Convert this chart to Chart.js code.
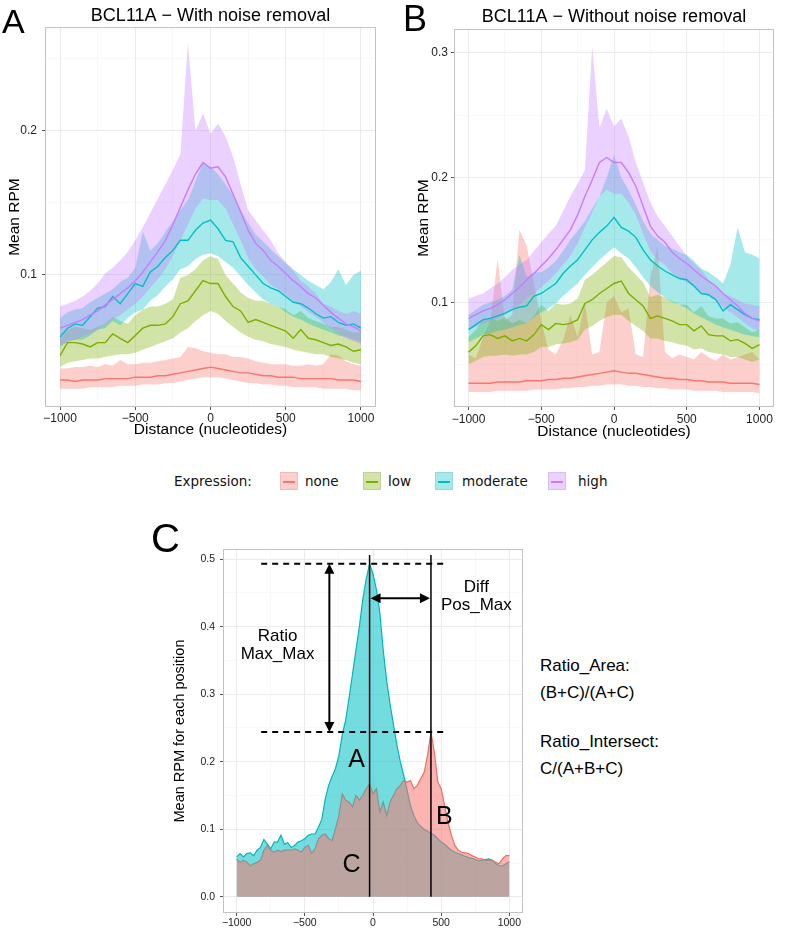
<!DOCTYPE html>
<html lang="en">
<head>
<meta charset="UTF-8">
<title>BCL11A - mean RPM profiles</title>
<script src="https://cdn.jsdelivr.net/npm/chart.js"></script>
<style>
    body { margin: 0; background: #fff; font-family: 'Liberation Sans', Arial, Helvetica, sans-serif; color: #000; }
    #page { position: relative; width: 787px; height: 931px; overflow: hidden; background: #fff; }
    canvas { position: absolute; }
    .tag { position: absolute; line-height: 1; color: #000; white-space: nowrap; }
    .legend span { position: absolute; top: 472px; }
    .legend .txt { font-family: 'DejaVu Sans', Verdana, sans-serif; font-size: 13.5px; line-height: 18px; color: #111; }
    .legend .key { width: 18px; height: 18px; box-sizing: border-box; border: 1px solid rgba(0,0,0,0.08); }
    .legend .key i { position: absolute; left: 2px; right: 2px; top: 8px; height: 2px; }
    .note { position: absolute; left: 540px; font-size: 17px; line-height: 17px; white-space: nowrap; }
</style>
</head>
<body>
<div id="page">
    <canvas id="chartA" width="393" height="450" style="left:0;top:0"></canvas>
    <canvas id="chartB" width="394" height="450" style="left:393px;top:0"></canvas>
    <canvas id="chartC" width="380" height="421" style="left:150px;top:510px"></canvas>

    <div class="tag" style="left:2px;top:3.6px;font-size:34px">A</div>
    <div class="tag" style="left:403px;top:0.5px;font-size:36px">B</div>
    <div class="tag" style="left:151px;top:518px;font-size:40px">C</div>

    <div class="legend">
        <span class="txt" style="left:174px">Expression:</span>
        <span class="key" style="left:280px;background:rgba(248,118,109,0.35)"><i style="background:#F8766D"></i></span>
        <span class="txt" style="left:305px">none</span>
        <span class="key" style="left:363px;background:rgba(124,174,0,0.35)"><i style="background:#7CAE00"></i></span>
        <span class="txt" style="left:388px">low</span>
        <span class="key" style="left:435px;background:rgba(0,191,196,0.35)"><i style="background:#00BFC4"></i></span>
        <span class="txt" style="left:462px">moderate</span>
        <span class="key" style="left:548px;background:rgba(199,124,255,0.35)"><i style="background:#C77CFF"></i></span>
        <span class="txt" style="left:578px">high</span>
    </div>

    <div class="note" style="top:656.5px">Ratio_Area:</div>
    <div class="note" style="top:684px">(B+C)/(A+C)</div>
    <div class="note" style="top:733px">Ratio_Intersect:</div>
    <div class="note" style="top:760px">C/(A+B+C)</div>
</div>
<script>
// distance from site (nucleotides)
const distAB = [-1000,-950,-900,-850,-800,-750,-700,-650,-600,-550,-500,-450,-400,-350,-300,-250,-200,-150,-100,-50,0,
                50,100,150,200,250,300,350,400,450,500,550,600,650,700,750,800,850,900,950,1000];
const distC = [-1000,-975,-950,-925,-900,-875,-850,-825,-800,-775,-750,-725,-700,-675,-650,-625,-600,-575,-550,-525,
               -500,-475,-450,-425,-400,-375,-350,-325,-300,-275,-250,-225,-200,-175,-150,-125,-100,-75,-50,-25,0,
               25,50,75,100,125,150,175,200,225,250,275,300,325,350,375,400,425,450,475,500,525,550,575,600,625,650,
               675,700,725,750,775,800,825,850,875,900,925,950,975,1000];

// tick labels
const xMajor = [-1000, -500, 0, 500, 1000];
const xMinor = [-750, -250, 250, 750];
const yMajorA = [0.1, 0.2];
const yMinorA = [0.05, 0.15, 0.25];
const yMajorB = [0.1, 0.2, 0.3];
const yMinorB = [0.05, 0.15, 0.25];
const yMajorC = [0, 0.1, 0.2, 0.3, 0.4, 0.5];
const yMinorC = [0.05, 0.15, 0.25, 0.35, 0.45];

const groups = ['none', 'low', 'moderate', 'high'];

// A - with noise removal (mean, lower, upper)
const aNone   = [.027,.027,.026,.027,.027,.027,.028,.028,.028,.028,.029,.029,.029,.030,.030,.031,.032,.033,.034,.035,.036,.035,.034,.033,.032,.032,.031,.030,.030,.029,.029,.029,.028,.028,.028,.028,.028,.027,.027,.027,.026];
const aNoneLo = [.021,.021,.021,.021,.022,.022,.022,.022,.023,.023,.023,.024,.024,.024,.025,.025,.026,.027,.028,.029,.029,.029,.028,.027,.026,.025,.025,.024,.024,.023,.023,.022,.022,.022,.022,.021,.021,.021,.021,.020,.020];
const aNoneHi = [.035,.035,.036,.036,.037,.036,.038,.037,.041,.038,.038,.039,.039,.040,.041,.042,.043,.050,.049,.047,.046,.045,.045,.043,.043,.042,.040,.039,.038,.038,.038,.037,.037,.038,.037,.038,.045,.044,.040,.038,.037];
const aLow    = [.044,.053,.053,.052,.050,.053,.053,.059,.056,.053,.058,.063,.065,.065,.066,.071,.080,.082,.089,.096,.094,.094,.085,.078,.075,.067,.069,.067,.065,.063,.061,.056,.062,.056,.055,.053,.051,.052,.050,.047,.048];
const aLowLo  = [.036,.039,.040,.041,.042,.042,.043,.044,.045,.045,.046,.048,.050,.052,.054,.056,.060,.063,.068,.072,.075,.073,.068,.064,.060,.057,.055,.054,.052,.051,.050,.048,.047,.046,.045,.045,.043,.042,.041,.039,.038];
const aLowHi  = [.057,.062,.064,.063,.062,.064,.066,.071,.068,.066,.072,.076,.078,.078,.080,.083,.098,.100,.104,.110,.113,.111,.100,.094,.088,.084,.082,.082,.080,.078,.076,.072,.075,.070,.068,.066,.064,.064,.062,.060,.060];
const aMod    = [.057,.063,.066,.065,.071,.077,.078,.085,.080,.087,.094,.092,.102,.106,.112,.117,.124,.124,.131,.136,.138,.132,.124,.123,.112,.106,.100,.094,.091,.089,.085,.081,.080,.077,.073,.070,.071,.067,.065,.066,.063];
const aModLo  = [.050,.054,.055,.055,.058,.062,.063,.068,.065,.070,.074,.076,.082,.086,.092,.097,.104,.106,.111,.114,.115,.113,.109,.105,.099,.093,.088,.083,.080,.078,.074,.071,.069,.066,.064,.062,.060,.058,.057,.055,.053];
const aModHi  = [.070,.074,.076,.077,.081,.084,.087,.090,.095,.098,.105,.130,.117,.122,.130,.137,.145,.152,.165,.178,.175,.170,.163,.155,.145,.136,.128,.123,.118,.113,.108,.104,.100,.096,.093,.090,.095,.104,.093,.100,.103];
const aHigh   = [.063,.065,.067,.069,.072,.075,.079,.083,.087,.091,.096,.102,.109,.116,.124,.135,.147,.159,.170,.178,.174,.175,.168,.156,.144,.131,.122,.117,.110,.106,.101,.096,.092,.087,.084,.079,.074,.070,.066,.064,.061];
const aHighLo = [.051,.053,.055,.057,.059,.062,.065,.069,.072,.076,.080,.085,.091,.097,.104,.113,.124,.135,.146,.153,.152,.152,.146,.135,.124,.112,.104,.099,.093,.090,.086,.082,.078,.074,.071,.067,.063,.059,.056,.054,.052];
const aHighHi = [.078,.080,.082,.085,.089,.094,.101,.105,.110,.116,.124,.133,.143,.153,.163,.173,.184,.261,.200,.212,.198,.205,.196,.182,.163,.145,.138,.131,.124,.115,.109,.103,.096,.092,.087,.080,.078,.075,.073,.075,.073];

// B - without noise removal
const bNone   = [.035,.035,.035,.035,.036,.036,.036,.036,.037,.037,.037,.038,.038,.039,.039,.040,.041,.042,.043,.044,.045,.044,.043,.043,.042,.041,.040,.039,.039,.038,.038,.037,.037,.036,.036,.036,.035,.035,.035,.035,.034];
const bNoneLo = [.028,.028,.028,.028,.029,.029,.029,.029,.029,.030,.030,.030,.030,.031,.031,.032,.032,.033,.033,.034,.034,.034,.033,.033,.032,.032,.031,.031,.030,.030,.030,.029,.029,.029,.029,.028,.028,.028,.028,.028,.027];
const bNoneHi = [.058,.055,.072,.085,.135,.085,.090,.158,.145,.115,.085,.062,.058,.070,.090,.072,.100,.058,.060,.100,.105,.092,.095,.058,.056,.120,.145,.060,.055,.058,.056,.054,.060,.056,.053,.058,.054,.056,.058,.060,.054];
const bLow    = [.060,.065,.073,.074,.071,.073,.069,.071,.069,.074,.082,.078,.083,.082,.083,.086,.099,.102,.107,.111,.115,.117,.107,.102,.097,.087,.089,.087,.085,.082,.082,.077,.081,.074,.073,.073,.069,.070,.067,.063,.066];
const bLowLo  = [.050,.053,.056,.057,.057,.058,.057,.058,.058,.060,.064,.064,.066,.067,.068,.070,.078,.081,.085,.088,.090,.090,.085,.081,.077,.071,.071,.069,.068,.066,.065,.062,.063,.060,.059,.058,.056,.056,.054,.052,.054];
const bLowHi  = [.072,.078,.086,.088,.085,.088,.083,.086,.083,.089,.098,.093,.099,.098,.099,.103,.118,.122,.127,.132,.137,.136,.128,.122,.116,.104,.106,.104,.101,.098,.098,.092,.097,.089,.087,.087,.083,.084,.080,.076,.078];
const bMod    = [.078,.082,.086,.087,.089,.091,.094,.096,.097,.105,.107,.111,.115,.123,.129,.134,.142,.150,.156,.161,.168,.160,.157,.152,.142,.134,.129,.125,.122,.119,.118,.113,.107,.106,.102,.093,.098,.094,.090,.087,.086];
const bModLo  = [.068,.071,.074,.075,.077,.078,.080,.082,.083,.088,.092,.095,.099,.105,.110,.115,.122,.128,.134,.139,.144,.139,.135,.128,.120,.113,.108,.104,.100,.098,.095,.091,.088,.085,.082,.080,.078,.076,.074,.073,.072];
const bModHi  = [.090,.094,.098,.100,.102,.105,.110,.138,.120,.124,.124,.128,.133,.141,.150,.157,.165,.175,.185,.200,.218,.200,.190,.178,.165,.155,.150,.145,.143,.140,.138,.133,.127,.124,.120,.115,.130,.160,.140,.138,.135];
const bHigh   = [.087,.090,.093,.095,.098,.102,.107,.112,.118,.123,.129,.135,.142,.150,.158,.170,.185,.198,.212,.216,.212,.212,.204,.193,.177,.161,.153,.148,.140,.135,.131,.126,.121,.117,.113,.107,.102,.097,.091,.087,.085];
const bHighLo = [.078,.080,.083,.085,.087,.090,.094,.098,.103,.107,.112,.117,.123,.130,.137,.147,.160,.172,.185,.190,.187,.187,.180,.170,.155,.141,.134,.130,.123,.119,.116,.112,.108,.105,.101,.096,.092,.088,.083,.079,.077];
const bHighHi = [.103,.105,.107,.111,.115,.120,.126,.130,.134,.141,.148,.155,.161,.173,.185,.195,.206,.305,.240,.255,.241,.247,.233,.212,.196,.180,.169,.161,.153,.145,.137,.131,.126,.118,.113,.107,.105,.102,.099,.098,.097];

// C - two example profiles (cyan = A side, red = B side)
const peakA = [.059,.064,.059,.064,.065,.061,.069,.073,.085,.078,.071,.081,.081,.091,.078,.080,.073,.076,.081,.083,
               .086,.091,.093,.093,.103,.115,.145,.165,.178,.190,.209,.240,.262,.295,.330,.365,.400,.440,.470,.493,.478,
               .455,.421,.365,.320,.285,.255,.225,.200,.180,.158,.135,.120,.110,.104,.100,.097,.094,.091,.086,.081,.078,
               .073,.069,.066,.064,.062,.060,.058,.057,.055,.053,.054,.055,.056,.054,.049,.046,.046,.049,.052];
const peakB = [.056,.051,.054,.051,.046,.049,.051,.054,.069,.076,.069,.066,.069,.067,.069,.069,.069,.071,.069,.066,
               .073,.076,.064,.071,.086,.091,.093,.086,.083,.101,.120,.152,.143,.140,.133,.150,.143,.150,.160,.167,.152,
               .160,.125,.140,.120,.140,.150,.160,.165,.172,.170,.172,.160,.165,.175,.184,.209,.244,.214,.170,.160,.135,
               .110,.091,.076,.069,.066,.065,.064,.061,.059,.056,.056,.054,.054,.054,.051,.049,.056,.061,.061];

const groupRgb = ['248,118,109', '124,174,0', '0,191,196', '199,124,255'];

Chart.defaults.font.family = "'Liberation Sans', Arial, Helvetica, sans-serif";
Chart.defaults.color = '#222';

const near = (list, v) => list.some(m => Math.abs(m - v) < 1e-9);
const pts = (xs, ys) => xs.map((x, i) => ({ x: x, y: ys[i] }));
const fmtX = v => (v < 0 ? '\u2212' + (-v) : String(v));
const argMax = arr => arr.indexOf(Math.max(...arr));

// light grey frame round the panel, like ggplot
const panelBorder = {
    id: 'panelBorder',
    afterDraw(chart) {
        const a = chart.chartArea, ctx = chart.ctx;
        ctx.save();
        ctx.strokeStyle = '#c2c2c2';
        ctx.lineWidth = 1;
        ctx.strokeRect(a.left + 0.5, a.top + 0.5, a.right - a.left - 1, a.bottom - a.top - 1);
        ctx.restore();
    }
};

function scaleX(g) {
    return {
        type: 'linear', min: -1100, max: 1100,
        afterBuildTicks: s => { s.ticks = xMajor.concat(xMinor).sort((a, b) => a - b).map(v => ({ value: v })); },
        afterFit: s => { s.height = g.xh; },
        ticks: { autoSkip: false, maxRotation: 0, padding: g.xtp, font: { size: g.tick }, color: '#222',
                 callback: v => near(xMajor, v) ? fmtX(v) : '' },
        grid: {
            color: c => (c.tick && near(xMajor, c.tick.value)) ? '#ebebeb' : '#f5f5f5',
            lineWidth: c => (c.tick && near(xMajor, c.tick.value)) ? 1 : 0.7,
            tickLength: 3,
            tickColor: c => (c.tick && near(xMajor, c.tick.value)) ? '#555' : 'rgba(0,0,0,0)'
        },
        border: { display: false },
        title: { display: !!g.xTitle, text: g.xTitle, color: '#000', font: { size: 15.5 }, padding: { top: 0, bottom: g.xpb } }
    };
}

function scaleY(g, major, minor, min, max) {
    return {
        type: 'linear', min: min, max: max,
        afterBuildTicks: s => { s.ticks = major.concat(minor).sort((a, b) => a - b).map(v => ({ value: v })); },
        afterFit: s => { s.width = g.yw; },
        ticks: { autoSkip: false, padding: g.ytp, font: { size: g.tick }, color: '#222',
                 callback: v => near(major, v) ? v.toFixed(1) : '' },
        grid: {
            color: c => (c.tick && near(major, c.tick.value)) ? '#ebebeb' : '#f5f5f5',
            lineWidth: c => (c.tick && near(major, c.tick.value)) ? 1 : 0.7,
            tickLength: 3,
            tickColor: c => (c.tick && near(major, c.tick.value)) ? '#555' : 'rgba(0,0,0,0)'
        },
        border: { display: false },
        title: { display: true, text: g.yTitle, color: '#000', font: { size: g.yTitleSize }, padding: { top: g.ypt, bottom: 0 } }
    };
}

function ribbonChart(id, title, series, major, minor, yMin, yMax, g) {
    const ds = [];
    series.forEach((s, k) => {
        ds.push({ data: pts(distAB, s.lo), borderWidth: 0, pointRadius: 0, fill: false, order: 20 - k });
        ds.push({ data: pts(distAB, s.hi), borderWidth: 0, pointRadius: 0, fill: '-1',
                  backgroundColor: 'rgba(' + groupRgb[k] + ',0.35)', order: 20 - k });
    });
    series.forEach((s, k) => {
        ds.push({ label: groups[k], data: pts(distAB, s.mean), borderColor: 'rgb(' + groupRgb[k] + ')',
                  borderWidth: 1.4, pointRadius: 0, fill: false, order: 10 - k });
    });
    return new Chart(document.getElementById(id), {
        type: 'line',
        data: { datasets: ds },
        options: {
            responsive: false, animation: false, events: [],
            layout: { padding: { left: 0, right: g.pr, top: 0, bottom: 0 } },
            plugins: {
                legend: { display: false }, tooltip: { enabled: false },
                title: { display: true, text: title, fullSize: false, color: '#000',
                         font: { size: 18, weight: 'normal' }, padding: { top: g.tpt, bottom: g.tpb } }
            },
            scales: { x: scaleX(g), y: scaleY(g, major, minor, yMin, yMax) }
        },
        plugins: [panelBorder]
    });
}

ribbonChart('chartA', 'BCL11A \u2212 With noise removal', [
    { mean: aNone, lo: aNoneLo, hi: aNoneHi },
    { mean: aLow, lo: aLowLo, hi: aLowHi },
    { mean: aMod, lo: aModLo, hi: aModHi },
    { mean: aHigh, lo: aHighLo, hi: aHighHi }
], yMajorA, yMinorA, 0.0083, 0.272,
{ pr: 17, tpt: 5.5, tpb: 0, xh: 43, xtp: 1, xpb: 10.7, xTitle: 'Distance (nucleotides)', tick: 12,
  yw: 45, ytp: 5, ypt: 5.2, yTitle: 'Mean RPM', yTitleSize: 15.5 });

ribbonChart('chartB', 'BCL11A \u2212 Without noise removal', [
    { mean: bNone, lo: bNoneLo, hi: bNoneHi },
    { mean: bLow, lo: bLowLo, hi: bLowHi },
    { mean: bMod, lo: bModLo, hi: bModHi },
    { mean: bHigh, lo: bHighLo, hi: bHighHi }
], yMajorB, yMinorB, 0.016, 0.319,
{ pr: 13, tpt: 6.7, tpb: 0.7, xh: 43, xtp: 2.4, xpb: 8.7, xTitle: 'Distance (nucleotides)', tick: 12,
  yw: 61, ytp: 3, ypt: 21.7, yTitle: 'Mean RPM', yTitleSize: 15.5 });

// arrows, dashed max levels and region letters for panel C
function head(ctx, x, y, ang) {
    ctx.save();
    ctx.translate(x, y);
    ctx.rotate(ang);
    ctx.beginPath();
    ctx.moveTo(0, 0);
    ctx.lineTo(-10, -5);
    ctx.lineTo(-10, 5);
    ctx.closePath();
    ctx.fill();
    ctx.restore();
}

const peakMarks = {
    id: 'peakMarks',
    afterDatasetsDraw(chart) {
        const { ctx, chartArea: area, scales: { x, y } } = chart;
        const iA = argMax(peakA), iB = argMax(peakB);
        const xA = x.getPixelForValue(distC[iA]), xB = x.getPixelForValue(distC[iB]);
        const yA = y.getPixelForValue(peakA[iA]), yB = y.getPixelForValue(peakB[iB]);
        const y0 = y.getPixelForValue(0);
        ctx.save();
        ctx.strokeStyle = '#000';
        ctx.fillStyle = '#000';

        // position of each maximum
        ctx.lineWidth = 1.5;
        [xA, xB].forEach(px => {
            ctx.beginPath(); ctx.moveTo(px, y0); ctx.lineTo(px, area.top + 6); ctx.stroke();
        });

        // height of each maximum
        ctx.lineWidth = 2;
        ctx.setLineDash([6, 5]);
        const dl = x.getPixelForValue(-820), dr = x.getPixelForValue(520);
        [yA, yB].forEach(py => {
            ctx.beginPath(); ctx.moveTo(dl, py); ctx.lineTo(dr, py); ctx.stroke();
        });
        ctx.setLineDash([]);

        // Ratio Max_Max arrow
        const ax = x.getPixelForValue(-320);
        ctx.beginPath(); ctx.moveTo(ax, yA + 8); ctx.lineTo(ax, yB - 8); ctx.stroke();
        head(ctx, ax, yA, -Math.PI / 2);
        head(ctx, ax, yB, Math.PI / 2);

        // Diff Pos_Max arrow
        const ay = y.getPixelForValue(0.442);
        ctx.beginPath(); ctx.moveTo(xA + 9, ay); ctx.lineTo(xB - 9, ay); ctx.stroke();
        head(ctx, xA + 1, ay, Math.PI);
        head(ctx, xB - 1, ay, 0);

        ctx.textAlign = 'center';
        ctx.textBaseline = 'middle';
        ctx.font = "17px 'Liberation Sans', Arial, sans-serif";
        ctx.fillText('Ratio', x.getPixelForValue(-700), y.getPixelForValue(0.385));
        ctx.fillText('Max_Max', x.getPixelForValue(-700), y.getPixelForValue(0.359));
        ctx.fillText('Diff', x.getPixelForValue(758), y.getPixelForValue(0.459));
        ctx.fillText('Pos_Max', x.getPixelForValue(758), y.getPixelForValue(0.432));

        ctx.font = "25px 'Liberation Sans', Arial, sans-serif";
        ctx.fillText('A', x.getPixelForValue(-121), y.getPixelForValue(0.203));
        ctx.fillText('B', x.getPixelForValue(523), y.getPixelForValue(0.118));
        ctx.fillText('C', x.getPixelForValue(-157), y.getPixelForValue(0.047));
        ctx.restore();
    }
};

const gC = { xh: 18, xtp: 1, xpb: 0, xTitle: null, tick: 10.5,
             yw: 73, ytp: 5, ypt: 21.3, yTitle: 'Mean RPM for each position', yTitleSize: 14.5 };

new Chart(document.getElementById('chartC'), {
    type: 'line',
    data: {
        datasets: [
            { data: pts(distC, peakA), borderColor: 'rgb(0,178,183)', borderWidth: 1.2, pointRadius: 0, fill: false, order: 4 },
            { data: pts(distC, peakB), borderColor: 'rgb(240,105,97)', borderWidth: 1.2, pointRadius: 0, fill: false, order: 3 },
            { data: pts(distC, peakA), borderWidth: 0, pointRadius: 0, fill: 'origin', backgroundColor: 'rgba(0,191,196,0.55)', order: 2 },
            { data: pts(distC, peakB), borderWidth: 0, pointRadius: 0, fill: 'origin', backgroundColor: 'rgba(248,118,109,0.55)', order: 1 }
        ]
    },
    options: {
        responsive: false, animation: false, events: [],
        layout: { padding: { left: 0, right: 7, top: 39, bottom: 0 } },
        plugins: { legend: { display: false }, tooltip: { enabled: false } },
        scales: { x: scaleX(gC), y: scaleY(gC, yMajorC, yMinorC, -0.024, 0.515) }
    },
    plugins: [panelBorder, peakMarks]
});
</script>
</body>
</html>
